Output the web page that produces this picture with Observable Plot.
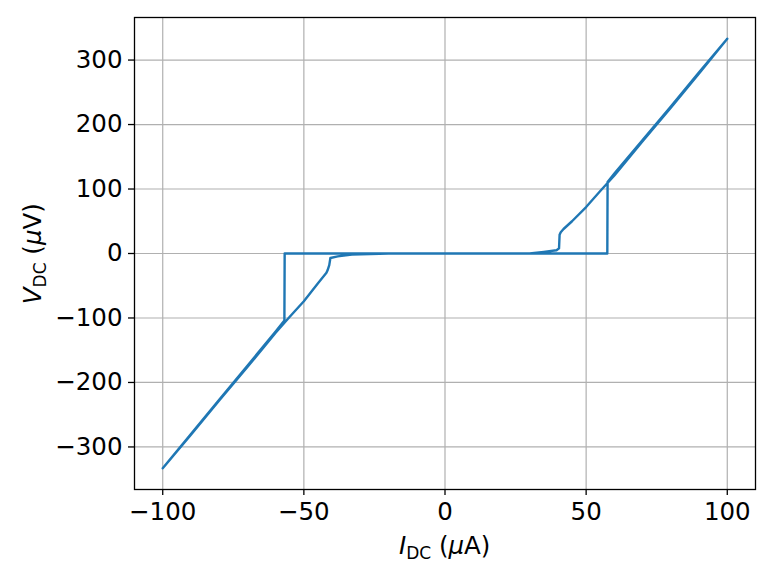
<!DOCTYPE html>
<html>
<head>
<meta charset="utf-8">
<script src="https://cdn.jsdelivr.net/npm/d3@7"></script>
<script src="https://cdn.jsdelivr.net/npm/@observablehq/plot@0.6"></script>
<style>
  html, body { margin: 0; padding: 0; background: #fff; }
  #chart svg { display: block; }
</style>
</head>
<body>
<div id="chart"></div>
<script>
// Sweep: 0 → +100 → −100 → 0 (µA), voltage in µV
const currentUA = [
  0, 20, 40, 57.5, 57.6, 60, 70, 80, 90, 100,
  90, 80, 70, 60, 55, 50, 45, 42, 41, 40.6, 40.4, 39.5, 35, 30, 20, 0, -20, -40, -56.8, -56.9,
  -60, -70, -80, -90, -100,
  -90, -80, -70, -60, -55, -50, -45, -42, -41.6, -41, -40.6, -38, -33, -20, 0
];
const voltageUV = [
  0, 0, 0, 0, 111, 124, 176, 228, 281, 333,
  279, 226, 174, 121, 97, 72, 50, 38, 33, 29, 8, 5, 2.5, 0, 0, 0, 0, 0, 0, -104,
  -121, -174, -227, -280, -333,
  -281, -228, -176, -123, -98, -74, -46, -30, -26, -18, -7, -4.5, -1.5, 0, 0
];
const xTicks = [-100, -50, 0, 50, 100];
const yTicks = [-300, -200, -100, 0, 100, 200, 300];

const data = currentUA.map((x, i) => ({x, y: voltageUV[i]}));
const fmt = d => d < 0 ? "\u2212" + Math.abs(d) : String(d);

const chart = Plot.plot({
  width: 773,
  height: 580,
  marginLeft: 134,
  marginRight: 18,
  marginTop: 17,
  marginBottom: 91,
  style: {fontFamily: "DejaVu Sans", fontSize: "24.5px", color: "#000", background: "#fff"},
  x: {domain: [-110, 110], ticks: xTicks, tickFormat: fmt, label: null},
  y: {domain: [-366, 366], ticks: yTicks, tickFormat: fmt, label: null},
  marks: [
    Plot.gridX(xTicks, {stroke: "#b0b0b0", strokeOpacity: 1, strokeWidth: 1.2}),
    Plot.gridY(yTicks, {stroke: "#b0b0b0", strokeOpacity: 1, strokeWidth: 1.2}),
    Plot.line(data, {x: "x", y: "y", stroke: "#1f77b4", strokeWidth: 2.4, strokeLinejoin: "round"}),
    Plot.frame({stroke: "#000", strokeWidth: 1.3}),
    Plot.axisX(xTicks, {tickSize: 6, tickPadding: 7, tickFormat: fmt, fontSize: 24.5, stroke: "#000", strokeWidth: 1.3}),
    Plot.axisY(yTicks, {tickSize: 6, tickPadding: 6, tickFormat: fmt, fontSize: 24.5, stroke: "#000", strokeWidth: 1.3})
  ]
});
document.getElementById("chart").appendChild(chart);

// Axis labels with subscripts
const svg = d3.select(chart);
const xl = svg.append("text")
  .attr("x", 444.7).attr("y", 554)
  .attr("text-anchor", "middle")
  .style("font-family", "DejaVu Sans").style("font-size", "24.5px").attr("fill", "#000");
xl.append("tspan").attr("font-style", "italic").text("I");
xl.append("tspan").attr("dy", 4.5).style("font-size", "17px").text("DC");
xl.append("tspan").attr("dy", -4.5).text(" (");
xl.append("tspan").attr("font-style", "italic").text("\u03bc");
xl.append("tspan").text("A)");

const yl = svg.append("text")
  .attr("transform", "translate(41,253.7) rotate(-90)")
  .attr("text-anchor", "middle")
  .style("font-family", "DejaVu Sans").style("font-size", "24.5px").attr("fill", "#000");
yl.append("tspan").attr("font-style", "italic").text("V");
yl.append("tspan").attr("dy", 4.5).style("font-size", "17px").text("DC");
yl.append("tspan").attr("dy", -4.5).text(" (");
yl.append("tspan").attr("font-style", "italic").text("\u03bc");
yl.append("tspan").text("V)");
</script>
</body>
</html>
